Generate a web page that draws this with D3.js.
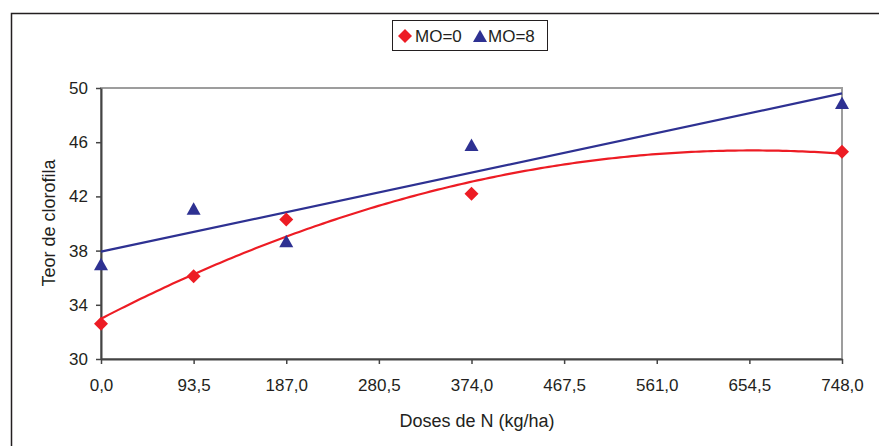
<html>
<head>
<script src="https://d3js.org/d3.v7.min.js"></script>
<style>
  body { margin: 0; background: #fff; }
  text { font-family: "Liberation Sans", Arial, sans-serif; fill: #231f20; }
</style>
</head>
<body>
<svg width="879" height="446"></svg>
<script>
// doses de N (kg/ha)
const doses = [0, 93.5, 187, 374, 748];
const mo0 = [32.6, 36.1, 40.3, 42.2, 45.3];
const mo8 = [37.0, 41.1, 38.7, 45.8, 48.9];
const xTicks = [0, 93.5, 187, 280.5, 374, 467.5, 561, 654.5, 748];
const yTicks = [30, 34, 38, 42, 46, 50];
const seriesNames = ['MO=0', 'MO=8'];

const red = '#ed1c24', blue = '#2e3192';

const svg = d3.select('svg');

// outer frame (right / bottom edges fall outside the picture)
svg.append('rect')
  .attr('x', 11.5).attr('y', 13.5)
  .attr('width', 900).attr('height', 500)
  .attr('fill', 'none').attr('stroke', '#231f20').attr('stroke-width', 1.5);

const x = d3.scaleLinear().domain([0, 748]).range([101, 842]);
const y = d3.scaleLinear().domain([30, 50]).range([359, 88]);

// plot area border (grey on top/right)
svg.append('rect')
  .attr('x', x(0)).attr('y', y(50))
  .attr('width', x(748) - x(0)).attr('height', y(30) - y(50))
  .attr('fill', 'none').attr('stroke', '#9d9d9d').attr('stroke-width', 2);

const comma = d3.formatLocale({decimal: ',', thousands: '.', grouping: [3], currency: ['', '']});

const xAxis = svg.append('g')
  .attr('transform', `translate(0, ${y(30)})`)
  .call(d3.axisBottom(x).tickValues(xTicks).tickFormat(comma.format('.1f'))
    .tickSize(5).tickSizeOuter(0).tickPadding(15));

const yAxis = svg.append('g')
  .attr('transform', `translate(${x(0)}, 0)`)
  .call(d3.axisLeft(y).tickValues(yTicks).tickSize(5).tickSizeOuter(0).tickPadding(8));

[xAxis, yAxis].forEach(a => {
  a.select('.domain').attr('stroke', '#444').attr('stroke-width', 2);
  a.selectAll('.tick line').attr('stroke', '#444').attr('stroke-width', 1.5);
  a.selectAll('.tick text').attr('font-size', 17).attr('fill', '#231f20')
    .attr('font-family', '"Liberation Sans", Arial, sans-serif');
});

// axis titles
svg.append('text')
  .attr('x', 477).attr('y', 427)
  .attr('text-anchor', 'middle').attr('font-size', 18)
  .text('Doses de N (kg/ha)');
svg.append('text')
  .attr('transform', 'translate(55, 223) rotate(-90)')
  .attr('text-anchor', 'middle').attr('font-size', 18)
  .text('Teor de clorofila');

// least squares fits (Excel style trendlines)
function linFit(xs, ys) {
  const n = xs.length, mx = d3.mean(xs), my = d3.mean(ys);
  let sxy = 0, sxx = 0;
  xs.forEach((v, i) => { sxy += (v - mx) * (ys[i] - my); sxx += (v - mx) ** 2; });
  const b = sxy / sxx;
  return t => my - b * mx + b * t;
}
function quadFit(xs, ys) {
  // normal equations for a + b x + c x^2
  const s = k => d3.sum(xs, v => v ** k);
  const t = k => d3.sum(xs, (v, i) => v ** k * ys[i]);
  const A = [[s(0), s(1), s(2), t(0)], [s(1), s(2), s(3), t(1)], [s(2), s(3), s(4), t(2)]];
  for (let i = 0; i < 3; i++) {
    for (let j = i + 1; j < 3; j++) {
      const f = A[j][i] / A[i][i];
      for (let k = i; k < 4; k++) A[j][k] -= f * A[i][k];
    }
  }
  const c = [0, 0, 0];
  for (let i = 2; i >= 0; i--) {
    let v = A[i][3];
    for (let k = i + 1; k < 3; k++) v -= A[i][k] * c[k];
    c[i] = v / A[i][i];
  }
  return u => c[0] + c[1] * u + c[2] * u * u;
}

const redFit = quadFit(doses, mo0), blueFit = linFit(doses, mo8);
const grid = d3.range(0, 748.01, 4);
const line = f => d3.line().x(d => x(d)).y(d => y(f(d)));

svg.append('path').attr('d', line(redFit)(grid))
  .attr('fill', 'none').attr('stroke', red).attr('stroke-width', 2.2);
svg.append('path').attr('d', line(blueFit)([0, 748]))
  .attr('fill', 'none').attr('stroke', blue).attr('stroke-width', 2.2);

// markers
const diamond = 'M0,-7L7,0L0,7L-7,0Z';
const triangle = 'M0,-6.3L7,6.1L-7,6.1Z';

svg.append('g').selectAll('path').data(doses).join('path')
  .attr('transform', (d, i) => `translate(${x(d)}, ${y(mo0[i])})`)
  .attr('d', diamond).attr('fill', red);
svg.append('g').selectAll('path').data(doses).join('path')
  .attr('transform', (d, i) => `translate(${x(d)}, ${y(mo8[i])})`)
  .attr('d', triangle).attr('fill', blue);

// legend
const leg = svg.append('g');
leg.append('rect').attr('x', 392.5).attr('y', 20.5).attr('width', 155).attr('height', 30)
  .attr('fill', '#fff').attr('stroke', '#231f20').attr('stroke-width', 1);
leg.append('path').attr('transform', 'translate(405, 36)').attr('d', diamond).attr('fill', red);
leg.append('text').attr('x', 415).attr('y', 42).attr('font-size', 17).text(seriesNames[0]);
leg.append('path').attr('transform', 'translate(480, 36)').attr('d', triangle).attr('fill', blue);
leg.append('text').attr('x', 488).attr('y', 42).attr('font-size', 17).text(seriesNames[1]);
</script>
</body>
</html>
